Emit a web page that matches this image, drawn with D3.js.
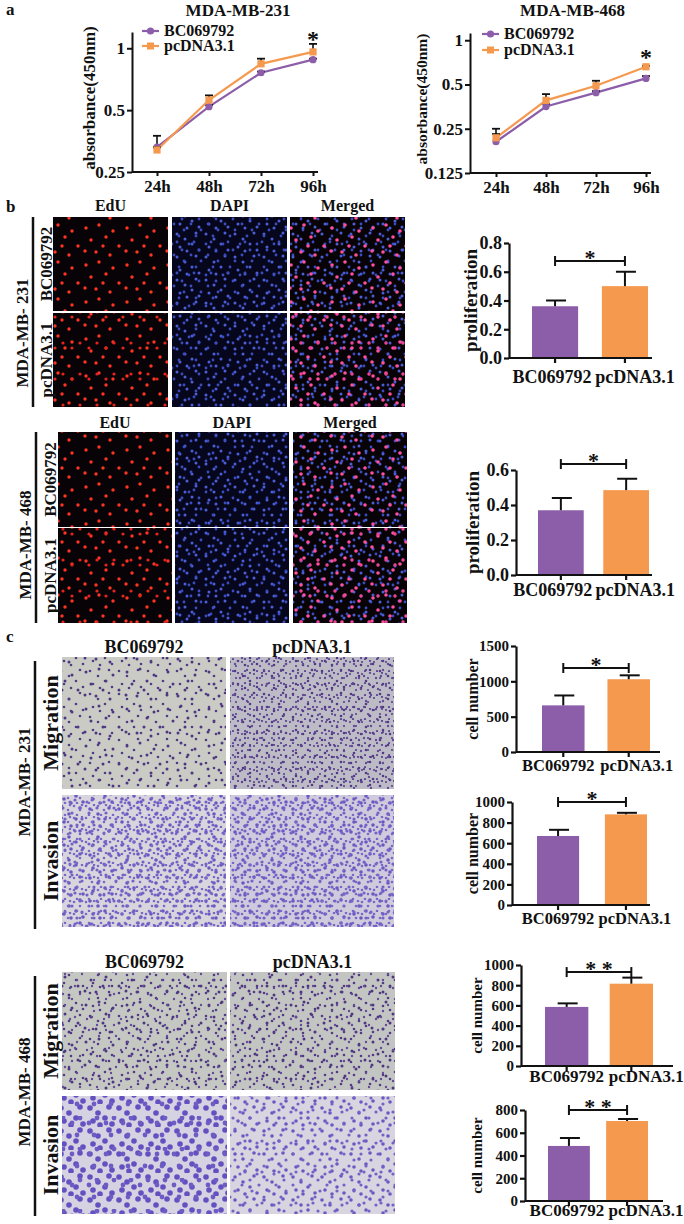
<!DOCTYPE html>
<html>
<head>
<meta charset="utf-8">
<script src="https://cdn.jsdelivr.net/npm/d3@7"></script>
<style>
  body { margin: 0; background: #fff; }
  svg text { font-family: "Liberation Serif", "Times New Roman", serif; font-weight: bold; fill: #111; }
</style>
</head>
<body>
<script>
// ---- data ----
const hours = ["24h", "48h", "72h", "96h"];
const groups = ["BC069792", "pcDNA3.1"];

// CCK-8 absorbance (log2 axis), upper error ends
const mb231_BC = [0.33, 0.52, 0.76, 0.88];
const mb231_PC = [0.32, 0.56, 0.84, 0.96];
const mb231_BCtop = [0.375, 0.53, 0.77, 0.89];
const mb231_PCtop = [0.33, 0.59, 0.89, 1.05];
const mb468_BC = [0.204, 0.354, 0.44, 0.55];
const mb468_PC = [0.217, 0.39, 0.49, 0.66];
const mb468_BCtop = [0.25, 0.37, 0.45, 0.57];
const mb468_PCtop = [0.23, 0.43, 0.53, 0.67];
const ticks231 = [0.25, 0.5, 1];
const ticks468 = [0.125, 0.25, 0.5, 1];

// bar charts: means and SD
const prolif231 = [0.36, 0.50], prolif231Sd = [0.04, 0.10];
const prolif468 = [0.37, 0.485], prolif468Sd = [0.07, 0.065];
const mig231 = [660, 1030], mig231Sd = [140, 55];
const inv231 = [670, 880], inv231Sd = [60, 15];
const mig468 = [585, 815], mig468Sd = [35, 60];
const inv468 = [484, 703], inv468Sd = [70, 18];
const prolifTicks231 = [0, 0.2, 0.4, 0.6, 0.8];
const prolifTicks468 = [0, 0.2, 0.4, 0.6];
const cellTicks1500 = [0, 500, 1000, 1500];
const cellTicks1000 = [0, 200, 400, 600, 800, 1000];
const cellTicks800 = [0, 200, 400, 600, 800];

const purple = "#8c5eaa", orange = "#f5994f";

const svg = d3.select("body").append("svg").attr("width", 684).attr("height", 1224);
const defs = svg.append("defs");

// ---- textures standing in for the micrographs ----
const ptsA = [[3,4],[11,9],[22,3],[6,17],[18,14],[25,20],[13,21]];
const ptsB = [[4,7],[12,2],[9,19],[2,27],[14,13],[7,25]];
const ptsC = [[2,2],[8,6],[5,11],[10,1]];
const ptsD = [[4,6],[17,3],[31,9],[9,18],[24,15],[37,24],[14,30],[28,33],[3,29],[21,24]];

function pattern(id, w, h, pts, r, fill) {
  const p = defs.append("pattern").attr("id", id)
    .attr("patternUnits", "userSpaceOnUse").attr("width", w).attr("height", h);
  p.selectAll("circle").data(pts).enter().append("circle")
    .attr("cx", d => d[0]).attr("cy", d => d[1]).attr("r", r).attr("fill", fill);
}
pattern("redD", 41, 37, ptsD, 1.7, "#ff3322");
pattern("redB", 17, 31, ptsB.slice(0, 2), 1.6, "#e8231c");
pattern("blueA", 29, 23, ptsA, 1.5, "#4b5ed8");
pattern("blueB", 17, 31, ptsB, 1.4, "#3a4cc0");
pattern("pinkD", 41, 37, ptsD, 1.8, "#ff4f9e");
pattern("pinkB", 17, 31, ptsB.slice(0, 2), 1.7, "#f0408e");
pattern("purA", 29, 23, ptsA, 1.3, "#523a84");
pattern("purB", 17, 31, ptsB, 1.2, "#644a98");
pattern("purC", 12, 12, ptsC, 1.1, "#5a4290");
pattern("purD", 41, 37, ptsD, 1.5, "#4e3680");
pattern("invA", 29, 23, ptsA, 1.8, "#6b58c2");
pattern("invB", 17, 31, ptsB, 1.6, "#7462c6");
pattern("invC", 12, 12, ptsC, 1.3, "#7a68c8");
pattern("blobA", 29, 23, ptsA, 2.8, "#6450c0");
pattern("blobB", 17, 31, ptsB.slice(0, 3), 2.4, "#6e5cc4");

function micro(x, y, w, h, bg, layers) {
  svg.append("rect").attr("x", x).attr("y", y).attr("width", w).attr("height", h).attr("fill", bg);
  layers.forEach(id => svg.append("rect").attr("x", x).attr("y", y).attr("width", w).attr("height", h)
    .attr("fill", `url(#${id})`));
}

function label(x, y, txt, size, opts = {}) {
  const t = svg.append("text").attr("x", x).attr("y", y).attr("font-size", size)
    .attr("text-anchor", opts.anchor || "middle").text(txt);
  if (opts.rotate) t.attr("transform", `rotate(-90,${x},${y})`).attr("dominant-baseline", "central");
  return t;
}

// ---- panel a: line charts ----
function lineChart(o) {
  const x = d3.scalePoint().domain(hours).range([o.xFirst, o.xLast]);
  const y = d3.scaleLog().base(2).domain(o.domain).range([o.yBottom, o.yTop]);
  const g = svg.append("g");

  const ya = g.append("g").attr("transform", `translate(${o.axisX},0)`)
    .call(d3.axisLeft(y).tickValues(o.ticks).tickFormat(d => String(d)).tickSize(5).tickSizeOuter(0).tickPadding(2));
  const xa = g.append("g").attr("transform", `translate(0,${o.yBottom})`)
    .call(d3.axisBottom(x).tickSize(4).tickPadding(4));
  xa.select(".domain").remove();
  g.append("line").attr("x1", o.axisX).attr("x2", o.axisEnd)
    .attr("y1", o.yBottom).attr("y2", o.yBottom).attr("stroke", "#111").attr("stroke-width", 2);
  [ya, xa].forEach(a => {
    a.selectAll("path,line").attr("stroke", "#111").attr("stroke-width", 2);
    a.selectAll("text").attr("font-size", o.tickFont).attr("fill", "#111")
      .attr("font-family", "Liberation Serif").attr("font-weight", "bold");
  });

  const line = d3.line().x((d, i) => x(hours[i])).y(d => y(d));
  const series = [
    { v: o.bc, top: o.bcTop, c: purple, shape: "circle" },
    { v: o.pc, top: o.pcTop, c: orange, shape: "square" }
  ];
  series.forEach(s => {
    g.append("path").datum(s.v).attr("d", line).attr("fill", "none")
      .attr("stroke", s.c).attr("stroke-width", 2.2);
    s.v.forEach((v, i) => {
      const cx = x(hours[i]), cy = y(v);
      if (s.top[i] > v) {
        g.append("line").attr("x1", cx).attr("x2", cx).attr("y1", cy).attr("y2", y(s.top[i]))
          .attr("stroke", "#111").attr("stroke-width", 1.6);
        g.append("line").attr("x1", cx - 4).attr("x2", cx + 4).attr("y1", y(s.top[i])).attr("y2", y(s.top[i]))
          .attr("stroke", "#111").attr("stroke-width", 1.8);
      }
      if (s.shape === "circle") g.append("circle").attr("cx", cx).attr("cy", cy).attr("r", 3.6).attr("fill", s.c);
      else g.append("rect").attr("x", cx - 3.6).attr("y", cy - 3.6).attr("width", 7.2).attr("height", 7.2).attr("fill", s.c);
    });
  });

  // legend
  series.forEach((s, i) => {
    const ly = o.legY + i * o.legGap;
    g.append("line").attr("x1", o.legX).attr("x2", o.legX + 17).attr("y1", ly).attr("y2", ly)
      .attr("stroke", s.c).attr("stroke-width", 2.2);
    if (s.shape === "circle") g.append("circle").attr("cx", o.legX + 8.5).attr("cy", ly).attr("r", 3.6).attr("fill", s.c);
    else g.append("rect").attr("x", o.legX + 5).attr("y", ly - 3.5).attr("width", 7).attr("height", 7).attr("fill", s.c);
    label(o.legX + 22, ly + 5, groups[i], o.legFont, { anchor: "start" });
  });

  label(x("96h"), y(o.pcTop[3]) + o.starDy, "*", 24);
  label((o.axisX + o.axisEnd) / 2 + o.titleDx, 16, o.title, 17);
  label(o.ylabX, o.ylabY, "absorbance(450nm)", o.ylabFont, { rotate: true });
}

label(6, 15, "a", 17, { anchor: "start" });
lineChart({
  title: "MDA-MB-231", titleDx: 13, axisX: 132, axisEnd: 318, xFirst: 157, xLast: 313,
  domain: [0.25, 1.2], yBottom: 172, yTop: 32, ticks: ticks231, tickFont: 17,
  bc: mb231_BC, pc: mb231_PC, bcTop: mb231_BCtop, pcTop: mb231_PCtop,
  legX: 142, legY: 31, legGap: 15, legFont: 16, starDy: 3,
  ylabX: 89, ylabY: 98, ylabFont: 17
});
lineChart({
  title: "MDA-MB-468", titleDx: 12, axisX: 470, axisEnd: 651, xFirst: 496, xLast: 646,
  domain: [0.125, 1.12], yBottom: 173, yTop: 33, ticks: ticks468, tickFont: 17,
  bc: mb468_BC, pc: mb468_PC, bcTop: mb468_BCtop, pcTop: mb468_PCtop,
  legX: 482, legY: 34, legGap: 16, legFont: 16, starDy: -1,
  ylabX: 421, ylabY: 99, ylabFont: 15.5
});

// ---- bar charts ----
function barChart(o) {
  const x = d3.scaleBand().domain(groups).range(o.bars).paddingInner(o.pad);
  const y = d3.scaleLinear().domain([0, o.ticks[o.ticks.length - 1]]).range([o.y0, o.yTop]);
  const g = svg.append("g");

  g.selectAll(".bar").data(o.mean).enter().append("rect")
    .attr("x", (d, i) => x(groups[i])).attr("width", x.bandwidth())
    .attr("y", d => y(d)).attr("height", d => o.y0 - y(d))
    .attr("fill", (d, i) => i ? orange : purple);

  o.mean.forEach((m, i) => {
    const cx = x(groups[i]) + x.bandwidth() / 2, t = y(m + o.sd[i]);
    g.append("line").attr("x1", cx).attr("x2", cx).attr("y1", y(m)).attr("y2", t)
      .attr("stroke", "#111").attr("stroke-width", 2);
    g.append("line").attr("x1", cx - 9).attr("x2", cx + 11).attr("y1", t).attr("y2", t)
      .attr("stroke", "#111").attr("stroke-width", 2);
  });

  const ya = g.append("g").attr("transform", `translate(${o.axisX},0)`)
    .call(d3.axisLeft(y).tickValues(o.ticks).tickFormat(o.fmt).tickSize(5).tickSizeOuter(0).tickPadding(2));
  const xa = g.append("g").attr("transform", `translate(0,${o.y0})`)
    .call(d3.axisBottom(x).tickSize(5).tickFormat(""));
  xa.select(".domain").remove();
  g.append("line").attr("x1", o.axisX).attr("x2", o.axisEnd).attr("y1", o.y0).attr("y2", o.y0)
    .attr("stroke", "#111").attr("stroke-width", 2.2);
  [ya, xa].forEach(a => a.selectAll("path,line").attr("stroke", "#111").attr("stroke-width", 2.2));
  ya.selectAll("text").attr("font-family", "Liberation Serif").attr("font-weight", "bold")
    .attr("fill", "#111").attr("font-size", o.tickFont);

  // category labels, nudged as in the figure
  groups.forEach((gname, i) => label(x(gname) + x.bandwidth() / 2 + o.labDx[i], o.y0 + o.labDy, gname, o.labFont));

  // significance bracket
  const c0 = x(groups[0]) + x.bandwidth() / 2, c1 = x(groups[1]) + x.bandwidth() / 2, by = y(o.bracket);
  g.append("line").attr("x1", c0).attr("x2", c1).attr("y1", by).attr("y2", by).attr("stroke", "#111").attr("stroke-width", 2);
  [c0, c1].forEach(cx => g.append("line").attr("x1", cx).attr("x2", cx).attr("y1", by - 5).attr("y2", by + 5)
    .attr("stroke", "#111").attr("stroke-width", 2));
  label((c0 + c1) / 2, by + 4, o.sig, 22);
  label(o.ylabX, (o.y0 + o.yTop) / 2, o.ylab, o.ylabFont, { rotate: true });
}

const f1 = d3.format(".1f"), fd = d3.format("d");
barChart({ mean: prolif231, sd: prolif231Sd, ticks: prolifTicks231, fmt: f1, bracket: 0.675, sig: "*",
  axisX: 509, axisEnd: 652, y0: 358, yTop: 243, bars: [532, 648], pad: 0.34,
  tickFont: 18, labFont: 18, labDx: [-3, 10], labDy: 25, ylab: "proliferation", ylabX: 470, ylabFont: 19 });
barChart({ mean: prolif468, sd: prolif468Sd, ticks: prolifTicks468, fmt: f1, bracket: 0.634, sig: "*",
  axisX: 516, axisEnd: 652, y0: 575, yTop: 470, bars: [538, 649], pad: 0.3,
  tickFont: 18, labFont: 18, labDx: [-8, 9], labDy: 21, ylab: "proliferation", ylabX: 472, ylabFont: 19 });
barChart({ mean: mig231, sd: mig231Sd, ticks: cellTicks1500, fmt: fd, bracket: 1189, sig: "*",
  axisX: 516, axisEnd: 660, y0: 752, yTop: 646, bars: [542, 650], pad: 0.35,
  tickFont: 15, labFont: 16.5, labDx: [-5, 8], labDy: 19, ylab: "cell number", ylabX: 472, ylabFont: 16 });
barChart({ mean: inv231, sd: inv231Sd, ticks: cellTicks1000, fmt: fd, bracket: 1000, sig: "*",
  axisX: 512, axisEnd: 650, y0: 905, yTop: 802, bars: [537, 647], pad: 0.38,
  tickFont: 15, labFont: 16.5, labDx: [0, 9], labDy: 19, ylab: "cell number", ylabX: 472, ylabFont: 16 });
barChart({ mean: mig468, sd: mig468Sd, ticks: cellTicks1000, fmt: fd, bracket: 930, sig: "* *",
  axisX: 521, axisEnd: 673, y0: 1066, yTop: 965, bars: [545, 653], pad: 0.33,
  tickFont: 15, labFont: 17, labDx: [0, 15], labDy: 16, ylab: "cell number", ylabX: 477, ylabFont: 15 });
barChart({ mean: inv468, sd: inv468Sd, ticks: cellTicks800, fmt: fd, bracket: 800, sig: "* *",
  axisX: 525, axisEnd: 663, y0: 1201, yTop: 1110, bars: [548, 648], pad: 0.28,
  tickFont: 15, labFont: 17, labDx: [-2, 19], labDy: 15, ylab: "cell number", ylabX: 477, ylabFont: 15 });

// ---- panel b: EdU micrographs ----
const eduCols = ["EdU", "DAPI", "Merged"];
const eduTex = [
  [["redD"], ["blueA", "blueB"], ["blueB", "blueA", "pinkD"]],
  [["redD", "redB"], ["blueA", "blueB"], ["blueB", "blueA", "pinkD", "pinkB"]]
];
function eduBlock(cols, rows, w, h, headY, lineX, cellLabel, cellY, rowLabX) {
  cols.forEach((cx, ci) => {
    label(cx + w / 2, headY, eduCols[ci], 16);
    rows.forEach((ry, ri) => micro(cx, ry, w, h, ci === 1 ? "#06071c" : "#070306", eduTex[ri][ci]));
  });
  svg.append("line").attr("x1", lineX).attr("x2", lineX).attr("y1", rows[0]).attr("y2", rows[1] + h)
    .attr("stroke", "#111").attr("stroke-width", 2.5);
  label(lineX - 11, cellY, cellLabel, 17, { rotate: true });
  groups.forEach((gname, ri) => label(rowLabX, rows[ri] + h / 2, gname, 17, { rotate: true }));
}
label(6, 212, "b", 17, { anchor: "start" });
eduBlock([53, 172, 290], [217, 313], 115, 94, 211, 33, "MDA-MB- 231", 333, 46);
eduBlock([58, 175, 293], [432, 528], 114, 95, 428, 36, "MDA-MB- 468", 545, 50);

// ---- panel c: transwell micrographs ----
function transBlock(cols, rows, w, h, headY, cellLabel, cellY, tex) {
  groups.forEach((gname, ci) => label(cols[ci] + w / 2, headY, gname, 18));
  rows.forEach((ry, ri) => cols.forEach((cx, ci) => micro(cx, ry, w, h, tex[ri][ci][0], tex[ri][ci][1])));
  svg.append("line").attr("x1", 35).attr("x2", 35).attr("y1", rows[0] + 4).attr("y2", rows[1] + h + 2)
    .attr("stroke", "#111").attr("stroke-width", 2.5);
  label(24, cellY, cellLabel, 17, { rotate: true });
  ["Migration", "Invasion"].forEach((t, ri) => label(50, rows[ri] + h / 2, t, 22, { rotate: true }));
}
label(6, 642, "c", 17, { anchor: "start" });
transBlock([62, 230], [657, 795], 164, 132, 653, "MDA-MB- 231", 782, [
  [["#c9cbc4", ["purD", "purA"]], ["#bdbcc6", ["purA", "purB", "purC"]]],
  [["#d8d6dc", ["invA", "invB", "invC"]], ["#d0cbdc", ["invA", "invB", "invC"]]]
]);
transBlock([62, 230], [972, 1096], 165, 118, 968, "MDA-MB- 468", 1092, [
  [["#c5c8c2", ["purD", "purA", "purB"]], ["#c3c5c2", ["purD", "purA", "purB"]]],
  [["#d5d2e2", ["blobA", "blobB"]], ["#d8d5e0", ["invA", "invB"]]]
]);
</script>
</body>
</html>
